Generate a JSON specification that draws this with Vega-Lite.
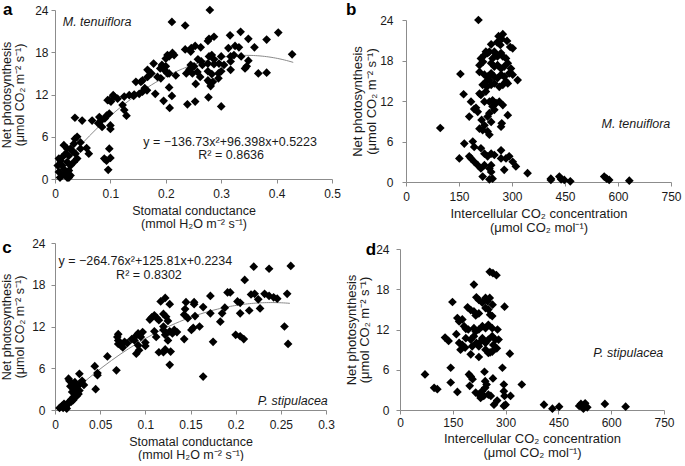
{
  "$schema": "https://vega.github.io/schema/vega-lite/v6.json",
  "padding": {"left": 0, "top": 0, "right": 0, "bottom": 0},
  "columns": 2,
  "align": "none",
  "bounds": "full",
  "spacing": {"row": 3, "column": 4},
  "datasets": {
    "a": [
      {"gs":0.2795,"An":24.0},{"gs":0.211,"An":22.3},{"gs":0.235,"An":21.8},{"gs":0.316,"An":20.4},{"gs":0.335,"An":20.9},{"gs":0.403,"An":20.8},{"gs":0.382,"An":19.8},{"gs":0.349,"An":19.9},{"gs":0.278,"An":19.9},{"gs":0.287,"An":20.2},{"gs":0.276,"An":19.6},{"gs":0.253,"An":18.9},{"gs":0.246,"An":18.6},{"gs":0.235,"An":18.4},{"gs":0.263,"An":18.7},{"gs":0.313,"An":18.6},{"gs":0.325,"An":18.9},{"gs":0.332,"An":18.7},{"gs":0.36,"An":18.7},{"gs":0.203,"An":17.6},{"gs":0.212,"An":17.9},{"gs":0.215,"An":17.6},{"gs":0.206,"An":17.4},{"gs":0.2,"An":17.1},{"gs":0.245,"An":18.1},{"gs":0.283,"An":17.6},{"gs":0.278,"An":17.4},{"gs":0.287,"An":17.0},{"gs":0.3,"An":17.4},{"gs":0.317,"An":17.4},{"gs":0.323,"An":17.6},{"gs":0.336,"An":17.4},{"gs":0.428,"An":17.7},{"gs":0.349,"An":16.8},{"gs":0.258,"An":17.0},{"gs":0.264,"An":16.7},{"gs":0.276,"An":16.4},{"gs":0.287,"An":16.3},{"gs":0.245,"An":16.2},{"gs":0.251,"An":16.0},{"gs":0.266,"An":16.2},{"gs":0.296,"An":16.4},{"gs":0.305,"An":16.2},{"gs":0.317,"An":16.7},{"gs":0.346,"An":16.0},{"gs":0.343,"An":15.7},{"gs":0.178,"An":16.4},{"gs":0.193,"An":16.2},{"gs":0.2,"An":16.0},{"gs":0.19,"An":15.7},{"gs":0.197,"An":15.5},{"gs":0.167,"An":15.5},{"gs":0.203,"An":15.0},{"gs":0.206,"An":15.0},{"gs":0.218,"An":14.7},{"gs":0.243,"An":15.6},{"gs":0.237,"An":15.0},{"gs":0.248,"An":15.0},{"gs":0.257,"An":15.2},{"gs":0.276,"An":15.3},{"gs":0.283,"An":14.9},{"gs":0.295,"An":15.0},{"gs":0.3,"An":15.3},{"gs":0.317,"An":15.5},{"gs":0.367,"An":15.0},{"gs":0.382,"An":15.1},{"gs":0.262,"An":14.5},{"gs":0.276,"An":14.0},{"gs":0.285,"An":13.8},{"gs":0.295,"An":14.3},{"gs":0.174,"An":15.0},{"gs":0.167,"An":14.5},{"gs":0.185,"An":14.5},{"gs":0.191,"An":14.3},{"gs":0.158,"An":14.0},{"gs":0.155,"An":13.8},{"gs":0.146,"An":13.8},{"gs":0.254,"An":13.5},{"gs":0.278,"An":13.8},{"gs":0.206,"An":13.0},{"gs":0.162,"An":12.9},{"gs":0.166,"An":12.6},{"gs":0.158,"An":12.4},{"gs":0.152,"An":12.1},{"gs":0.143,"An":12.0},{"gs":0.142,"An":11.8},{"gs":0.134,"An":11.9},{"gs":0.125,"An":11.7},{"gs":0.181,"An":12.1},{"gs":0.281,"An":13.2},{"gs":0.211,"An":11.8},{"gs":0.196,"An":11.1},{"gs":0.253,"An":11.0},{"gs":0.239,"An":10.6},{"gs":0.277,"An":11.6},{"gs":0.3,"An":10.3},{"gs":0.207,"An":10.1},{"gs":0.107,"An":11.7},{"gs":0.113,"An":11.4},{"gs":0.098,"An":11.2},{"gs":0.101,"An":11.0},{"gs":0.095,"An":11.2},{"gs":0.105,"An":11.9},{"gs":0.122,"An":10.5},{"gs":0.125,"An":9.8},{"gs":0.129,"An":9.0},{"gs":0.093,"An":9.0},{"gs":0.098,"An":9.3},{"gs":0.09,"An":8.6},{"gs":0.083,"An":8.3},{"gs":0.08,"An":8.8},{"gs":0.1,"An":7.6},{"gs":0.085,"An":7.4},{"gs":0.1,"An":7.1},{"gs":0.078,"An":7.9},{"gs":0.049,"An":8.3},{"gs":0.067,"An":8.3},{"gs":0.036,"An":8.7},{"gs":0.057,"An":4.4},{"gs":0.061,"An":3.6},{"gs":0.098,"An":4.3},{"gs":0.096,"An":1.3},{"gs":0.1,"An":3.0},{"gs":0.089,"An":2.9},{"gs":0.093,"An":2.6},
      {"gs":0.010,"An":2.6},{"gs":0.013,"An":1.9},{"gs":0.016,"An":1.4},{"gs":0.022,"An":2.4},{"gs":0.007,"An":1.0},{"gs":0.013,"An":0.5},{"gs":0.019,"An":0.7},{"gs":0.025,"An":1.2},{"gs":0.009,"An":0.2},{"gs":0.022,"An":0.2},{"gs":0.028,"An":0.5},{"gs":0.013,"An":3.1},{"gs":0.019,"An":3.6},{"gs":0.025,"An":3.3},{"gs":0.028,"An":4.3},{"gs":0.034,"An":5.0},{"gs":0.031,"An":4.0},{"gs":0.036,"An":5.7},{"gs":0.04,"An":6.0},{"gs":0.046,"An":5.2},{"gs":0.046,"An":4.3},{"gs":0.037,"An":3.6},{"gs":0.04,"An":2.9},{"gs":0.022,"An":4.3},{"gs":0.016,"An":4.8},{"gs":0.007,"An":2.9},{"gs":0.005,"An":1.9},{"gs":0.028,"An":1.9},{"gs":0.034,"An":2.4},{"gs":0.025,"An":0.2}
    ],
    "b": [
      {"Ci":205,"An":24.0},{"Ci":274,"An":21.9},{"Ci":262,"An":21.6},{"Ci":271,"An":21.2},{"Ci":258,"An":20.7},{"Ci":286,"An":20.9},{"Ci":295,"An":20.0},{"Ci":302,"An":19.8},{"Ci":267,"An":20.3},{"Ci":241,"An":20.4},{"Ci":226,"An":19.3},{"Ci":236,"An":19.3},{"Ci":231,"An":19.1},{"Ci":222,"An":18.8},{"Ci":212,"An":18.3},{"Ci":218,"An":17.8},{"Ci":208,"An":17.3},{"Ci":250,"An":19.3},{"Ci":255,"An":18.8},{"Ci":245,"An":18.3},{"Ci":259,"An":18.6},{"Ci":269,"An":19.1},{"Ci":274,"An":18.6},{"Ci":283,"An":18.3},{"Ci":288,"An":17.6},{"Ci":241,"An":17.6},{"Ci":250,"An":17.1},{"Ci":259,"An":17.3},{"Ci":269,"An":16.8},{"Ci":278,"An":17.1},{"Ci":297,"An":16.8},{"Ci":292,"An":16.1},{"Ci":302,"An":15.9},{"Ci":316,"An":15.1},{"Ci":154,"An":16.0},{"Ci":208,"An":16.3},{"Ci":222,"An":15.9},{"Ci":231,"An":15.6},{"Ci":241,"An":16.1},{"Ci":236,"An":15.1},{"Ci":227,"An":14.9},{"Ci":250,"An":15.6},{"Ci":259,"An":15.4},{"Ci":269,"An":15.9},{"Ci":278,"An":15.6},{"Ci":283,"An":14.9},{"Ci":288,"An":14.6},{"Ci":217,"An":14.4},{"Ci":229,"An":14.1},{"Ci":241,"An":14.4},{"Ci":250,"An":14.6},{"Ci":264,"An":14.1},{"Ci":274,"An":14.4},{"Ci":208,"An":13.1},{"Ci":212,"An":12.9},{"Ci":226,"An":13.4},{"Ci":163,"An":13.0},{"Ci":184,"An":11.9},{"Ci":198,"An":11.0},{"Ci":193,"An":10.8},{"Ci":203,"An":10.4},{"Ci":179,"An":9.7},{"Ci":222,"An":11.9},{"Ci":236,"An":11.9},{"Ci":245,"An":12.1},{"Ci":255,"An":11.7},{"Ci":264,"An":11.9},{"Ci":245,"An":11.2},{"Ci":250,"An":10.7},{"Ci":236,"An":10.2},{"Ci":231,"An":9.7},{"Ci":274,"An":11.4},{"Ci":288,"An":9.9},{"Ci":214,"An":9.2},{"Ci":222,"An":8.4},{"Ci":241,"An":8.9},{"Ci":231,"An":7.5},{"Ci":217,"An":7.7},{"Ci":208,"An":7.9},{"Ci":236,"An":7.0},{"Ci":269,"An":8.2},{"Ci":271,"An":8.7},{"Ci":97,"An":8.0},{"Ci":189,"An":6.0},{"Ci":165,"An":5.7},{"Ci":193,"An":5.2},{"Ci":179,"An":3.8},{"Ci":151,"An":3.5},{"Ci":184,"An":3.5},{"Ci":193,"An":3.0},{"Ci":203,"An":2.5},{"Ci":212,"An":2.0},{"Ci":217,"An":0.8},{"Ci":236,"An":0.4},{"Ci":222,"An":2.5},{"Ci":236,"An":2.0},{"Ci":241,"An":2.5},{"Ci":231,"An":3.8},{"Ci":241,"An":4.2},{"Ci":222,"An":4.2},{"Ci":212,"An":5.0},{"Ci":250,"An":4.0},{"Ci":269,"An":4.7},{"Ci":269,"An":3.5},{"Ci":283,"An":3.5},{"Ci":292,"An":3.8},{"Ci":302,"An":3.0},{"Ci":311,"An":2.3},{"Ci":278,"An":1.8},{"Ci":241,"An":1.5},{"Ci":245,"An":0.5},{"Ci":344,"An":1.3},{"Ci":410,"An":0.5},{"Ci":410,"An":0.3},{"Ci":434,"An":0.8},{"Ci":439,"An":0.4},{"Ci":448,"An":0.3},{"Ci":465,"An":0.1},{"Ci":561,"An":0.8},{"Ci":568,"An":0.5},{"Ci":575,"An":0.3},{"Ci":632,"An":0.2}
    ],
    "c": [
      {"gs":0.005,"An":0.3},{"gs":0.008,"An":0.6},{"gs":0.01,"An":0.9},{"gs":0.012,"An":0.4},{"gs":0.014,"An":0.8},{"gs":0.015,"An":1.1},{"gs":0.013,"An":0.2},{"gs":0.018,"An":1.5},{"gs":0.02,"An":1.8},{"gs":0.022,"An":2.2},{"gs":0.019,"An":2.6},{"gs":0.021,"An":3.0},{"gs":0.017,"An":3.4},{"gs":0.02,"An":3.8},{"gs":0.016,"An":4.2},{"gs":0.015,"An":4.5},{"gs":0.022,"An":4.0},{"gs":0.025,"An":3.5},{"gs":0.027,"An":2.8},{"gs":0.024,"An":2.0},{"gs":0.028,"An":3.8},{"gs":0.027,"An":5.2},{"gs":0.03,"An":4.2},{"gs":0.032,"An":3.6},{"gs":0.023,"An":2.5},{"gs":0.018,"An":1.2},{"gs":0.02,"An":1.4},{"gs":0.012,"An":0.6},{"gs":0.009,"An":0.3},{"gs":0.026,"An":2.3},
      {"gs":0.045,"An":3.0},{"gs":0.044,"An":6.3},{"gs":0.047,"An":5.0},{"gs":0.047,"An":5.3},{"gs":0.058,"An":7.7},{"gs":0.068,"An":5.7},{"gs":0.07,"An":9.5},{"gs":0.07,"An":10.0},{"gs":0.069,"An":10.5},{"gs":0.07,"An":10.9},{"gs":0.073,"An":9.3},{"gs":0.075,"An":9.0},{"gs":0.077,"An":9.8},{"gs":0.08,"An":9.6},{"gs":0.085,"An":10.2},{"gs":0.088,"An":10.0},{"gs":0.09,"An":10.7},{"gs":0.092,"An":9.3},{"gs":0.093,"An":8.6},{"gs":0.09,"An":8.1},{"gs":0.092,"An":11.0},{"gs":0.095,"An":10.5},{"gs":0.097,"An":11.2},{"gs":0.1,"An":9.2},{"gs":0.1,"An":9.7},{"gs":0.105,"An":13.0},{"gs":0.107,"An":13.3},{"gs":0.11,"An":13.6},{"gs":0.113,"An":13.2},{"gs":0.11,"An":11.3},{"gs":0.112,"An":10.5},{"gs":0.115,"An":12.9},{"gs":0.115,"An":8.3},{"gs":0.12,"An":8.3},{"gs":0.122,"An":8.7},{"gs":0.117,"An":15.6},{"gs":0.122,"An":16.1},{"gs":0.12,"An":13.8},{"gs":0.123,"An":13.4},{"gs":0.125,"An":12.8},{"gs":0.12,"An":12.0},{"gs":0.12,"An":11.5},{"gs":0.122,"An":10.8},{"gs":0.127,"An":11.3},{"gs":0.125,"An":10.0},{"gs":0.127,"An":6.5},{"gs":0.128,"An":8.4},{"gs":0.127,"An":15.2},{"gs":0.13,"An":11.0},{"gs":0.132,"An":11.5},{"gs":0.135,"An":11.2},
      {"gs":0.143,"An":13.7},{"gs":0.147,"An":13.2},{"gs":0.144,"An":14.5},{"gs":0.145,"An":15.5},{"gs":0.154,"An":15.2},{"gs":0.154,"An":15.5},{"gs":0.164,"An":14.8},{"gs":0.151,"An":11.5},{"gs":0.153,"An":11.8},{"gs":0.16,"An":12.0},{"gs":0.143,"An":10.2},{"gs":0.155,"An":13.5},{"gs":0.172,"An":16.4},{"gs":0.172,"An":13.9},{"gs":0.175,"An":9.8},{"gs":0.164,"An":4.8},{"gs":0.183,"An":12.7},{"gs":0.185,"An":13.9},{"gs":0.188,"An":14.7},{"gs":0.191,"An":16.9},{"gs":0.194,"An":16.9},{"gs":0.2,"An":10.8},{"gs":0.205,"An":10.6},{"gs":0.209,"An":10.2},{"gs":0.202,"An":15.6},{"gs":0.205,"An":15.4},{"gs":0.205,"An":13.9},{"gs":0.21,"An":18.7},{"gs":0.215,"An":14.3},{"gs":0.217,"An":16.6},{"gs":0.221,"An":16.7},{"gs":0.22,"An":20.6},{"gs":0.225,"An":15.9},{"gs":0.227,"An":14.6},{"gs":0.232,"An":16.7},{"gs":0.237,"An":16.4},{"gs":0.237,"An":20.3},{"gs":0.242,"An":16.2},{"gs":0.246,"An":16.0},{"gs":0.254,"An":12.0},{"gs":0.258,"An":9.5},{"gs":0.257,"An":16.7},{"gs":0.261,"An":20.7}
    ],
    "d": [
      {"Ci":71,"An":5.3},{"Ci":97,"An":3.3},{"Ci":106,"An":3.1},{"Ci":144,"An":4.1},{"Ci":163,"An":2.7},{"Ci":144,"An":6.3},{"Ci":196,"An":5.3},{"Ci":201,"An":5.0},{"Ci":206,"An":4.6},{"Ci":198,"An":3.6},{"Ci":215,"An":2.6},{"Ci":224,"An":2.3},{"Ci":229,"An":1.8},{"Ci":238,"An":2.1},{"Ci":233,"An":2.8},{"Ci":242,"An":3.3},{"Ci":246,"An":3.8},{"Ci":242,"An":4.3},{"Ci":240,"An":5.7},{"Ci":251,"An":2.3},{"Ci":258,"An":2.1},{"Ci":264,"An":4.7},{"Ci":267,"An":0.8},{"Ci":276,"An":1.4},{"Ci":295,"An":3.8},{"Ci":295,"An":2.8},{"Ci":297,"An":2.1},{"Ci":300,"An":0.8},{"Ci":295,"An":0.6},{"Ci":314,"An":2.1},{"Ci":291,"An":6.3},{"Ci":346,"An":3.8},{"Ci":312,"An":8.4},{"Ci":409,"An":0.8},{"Ci":433,"An":0.2},{"Ci":452,"An":0.5},{"Ci":509,"An":0.6},{"Ci":514,"An":0.9},{"Ci":521,"An":0.2},{"Ci":526,"An":1.0},{"Ci":532,"An":0.4},{"Ci":582,"An":0.9},{"Ci":641,"An":0.5},
      {"Ci":255,"An":20.6},{"Ci":264,"An":20.4},{"Ci":274,"An":20.1},{"Ci":210,"An":18.7},{"Ci":149,"An":16.1},{"Ci":217,"An":16.8},{"Ci":224,"An":16.4},{"Ci":234,"An":16.0},{"Ci":243,"An":16.7},{"Ci":249,"An":16.2},{"Ci":255,"An":16.7},{"Ci":263,"An":15.7},{"Ci":297,"An":15.4},{"Ci":192,"An":15.3},{"Ci":201,"An":14.9},{"Ci":210,"An":14.7},{"Ci":215,"An":14.1},{"Ci":224,"An":14.4},{"Ci":243,"An":15.2},{"Ci":251,"An":15.0},{"Ci":256,"An":14.2},{"Ci":262,"An":14.0},{"Ci":163,"An":13.7},{"Ci":168,"An":13.2},{"Ci":177,"An":13.5},{"Ci":182,"An":12.5},{"Ci":187,"An":12.1},{"Ci":194,"An":12.0},{"Ci":210,"An":12.2},{"Ci":215,"An":11.7},{"Ci":224,"An":12.0},{"Ci":234,"An":12.5},{"Ci":243,"An":12.2},{"Ci":251,"An":12.7},{"Ci":262,"An":12.2},{"Ci":128,"An":10.8},{"Ci":138,"An":10.3},{"Ci":160,"An":11.3},{"Ci":168,"An":10.0},{"Ci":177,"An":9.7},{"Ci":185,"An":9.3},{"Ci":172,"An":9.0},{"Ci":187,"An":10.7},{"Ci":201,"An":10.5},{"Ci":210,"An":11.0},{"Ci":217,"An":10.0},{"Ci":224,"An":9.5},{"Ci":229,"An":10.2},{"Ci":234,"An":10.7},{"Ci":243,"An":10.0},{"Ci":251,"An":10.5},{"Ci":262,"An":11.0},{"Ci":271,"An":10.5},{"Ci":265,"An":9.7},{"Ci":277,"An":12.0},{"Ci":280,"An":10.5},{"Ci":275,"An":9.2},{"Ci":262,"An":8.7},{"Ci":256,"An":8.6},{"Ci":251,"An":8.5},{"Ci":205,"An":9.5},{"Ci":201,"An":8.3},{"Ci":224,"An":7.9},{"Ci":243,"An":9.0}
    ]
  },
  "concat": [
    {
      "width": 277, "height": 169,
      "data": {"name": "a"},
      "layer": [
        {
          "transform": [{"regression": "An", "on": "gs", "method": "poly", "order": 2, "extent": [0.03, 0.43]}],
          "mark": {"type": "line", "color": "#8a8a8a", "strokeWidth": 1},
          "encoding": {
            "x": {"field": "gs", "type": "quantitative", "scale": {"domain": [0, 0.5], "nice": false},
                  "axis": {"title": ["Stomatal conductance", "(mmol H₂O m⁻² s⁻¹)"], "values": [0, 0.1, 0.2, 0.3, 0.4, 0.5], "format": ".1~f", "labelPadding": 5, "titlePadding": 5}},
            "y": {"field": "An", "type": "quantitative", "scale": {"domain": [0, 24], "nice": false},
                  "axis": {"title": ["Net photosynthesis", "(μmol CO₂ m⁻² s⁻¹)"], "values": [0, 6, 12, 18, 24], "labelPadding": 3, "titlePadding": 8}}
          }
        },
        {
          "mark": {"type": "point", "shape": "diamond", "filled": true, "color": "#000", "opacity": 1, "size": 76},
          "encoding": {"x": {"field": "gs", "type": "quantitative"}, "y": {"field": "An", "type": "quantitative"}}
        },
        {
          "data": {"values": [{}]},
          "mark": {"type": "text", "align": "center", "baseline": "middle"},
          "encoding": {"x": {"datum": 0.316}, "y": {"datum": 5.25}, "text": {"value": "y = −136.73x²+96.398x+0.5223"}}
        },
        {
          "data": {"values": [{}]},
          "mark": {"type": "text", "align": "center", "baseline": "middle"},
          "encoding": {"x": {"datum": 0.318}, "y": {"datum": 3.4}, "text": {"value": "R² = 0.8636"}}
        },
        {
          "data": {"values": [{}]},
          "mark": {"type": "text", "align": "left", "baseline": "middle", "fontStyle": "italic"},
          "encoding": {"x": {"datum": 0.014}, "y": {"datum": 22.3}, "text": {"value": "M. tenuiflora"}}
        },
        {
          "data": {"values": [{}]},
          "mark": {"type": "text", "align": "left", "baseline": "alphabetic", "fontSize": 17, "fontWeight": "bold", "color": "#000"},
          "encoding": {"x": {"datum": -0.094}, "y": {"datum": 23.3}, "text": {"value": "a"}}
        }
      ]
    },
    {
      "width": 265, "height": 172,
      "data": {"name": "b"},
      "layer": [
        {
          "mark": {"type": "point", "shape": "diamond", "filled": true, "color": "#000", "opacity": 1, "size": 76},
          "encoding": {
            "x": {"field": "Ci", "type": "quantitative", "scale": {"domain": [0, 750], "nice": false},
                  "axis": {"title": ["Intercellular CO₂ concentration", "(μmol CO₂ mol⁻¹)"], "values": [0, 150, 300, 450, 600, 750], "labelPadding": 5, "titlePadding": 5, "titleFontSize": 13, "titleLineHeight": 14}},
            "y": {"field": "An", "type": "quantitative", "scale": {"domain": [0, 24], "nice": false, "range": [172, 10]},
                  "axis": {"title": ["Net photosynthesis", "(μmol CO₂ m⁻² s⁻¹)"], "values": [0, 6, 12, 18, 24], "labelPadding": 9, "titlePadding": 1, "titleFontSize": 13, "titleLineHeight": 14}}
          }
        },
        {
          "data": {"values": [{}]},
          "mark": {"type": "text", "align": "right", "baseline": "middle", "fontStyle": "italic"},
          "encoding": {"x": {"datum": 748}, "y": {"datum": 8.6}, "text": {"value": "M. tenuiflora"}}
        },
        {
          "data": {"values": [{}]},
          "mark": {"type": "text", "align": "left", "baseline": "alphabetic", "fontSize": 17, "fontWeight": "bold", "color": "#000"},
          "encoding": {"x": {"datum": -170}, "y": {"datum": 24.74}, "text": {"value": "b"}}
        }
      ]
    },
    {
      "width": 271, "height": 167,
      "data": {"name": "c"},
      "layer": [
        {
          "transform": [{"regression": "An", "on": "gs", "method": "poly", "order": 2, "extent": [0.025, 0.26]}],
          "mark": {"type": "line", "color": "#8a8a8a", "strokeWidth": 1},
          "encoding": {
            "x": {"field": "gs", "type": "quantitative", "scale": {"domain": [0, 0.3], "nice": false},
                  "axis": {"title": ["Stomatal conductance", "(mmol H₂O m⁻² s⁻¹)"], "values": [0, 0.05, 0.1, 0.15, 0.2, 0.25, 0.3], "format": ".2~f", "labelPadding": 5, "titlePadding": 5}},
            "y": {"field": "An", "type": "quantitative", "scale": {"domain": [0, 24], "nice": false},
                  "axis": {"title": ["Net photosynthesis", "(μmol CO₂ m⁻² s⁻¹)"], "values": [0, 6, 12, 18, 24], "labelPadding": 6, "titlePadding": 5}}
          }
        },
        {
          "mark": {"type": "point", "shape": "diamond", "filled": true, "color": "#000", "opacity": 1, "size": 76},
          "encoding": {"x": {"field": "gs", "type": "quantitative"}, "y": {"field": "An", "type": "quantitative"}}
        },
        {
          "data": {"values": [{}]},
          "mark": {"type": "text", "align": "center", "baseline": "middle"},
          "encoding": {"x": {"datum": 0.1}, "y": {"datum": 21.4}, "text": {"value": "y = −264.76x²+125.81x+0.2234"}}
        },
        {
          "data": {"values": [{}]},
          "mark": {"type": "text", "align": "center", "baseline": "middle"},
          "encoding": {"x": {"datum": 0.104}, "y": {"datum": 19.4}, "text": {"value": "R² = 0.8302"}}
        },
        {
          "data": {"values": [{}]},
          "mark": {"type": "text", "align": "right", "baseline": "middle", "fontStyle": "italic"},
          "encoding": {"x": {"datum": 0.302}, "y": {"datum": 1.3}, "text": {"value": "P. stipulacea"}}
        },
        {
          "data": {"values": [{}]},
          "mark": {"type": "text", "align": "left", "baseline": "alphabetic", "fontSize": 17, "fontWeight": "bold", "color": "#000"},
          "encoding": {"x": {"datum": -0.0585}, "y": {"datum": 22.56}, "text": {"value": "c"}}
        }
      ]
    },
    {
      "width": 264, "height": 173,
      "data": {"name": "d"},
      "layer": [
        {
          "mark": {"type": "point", "shape": "diamond", "filled": true, "color": "#000", "opacity": 1, "size": 76},
          "encoding": {
            "x": {"field": "Ci", "type": "quantitative", "scale": {"domain": [0, 750], "nice": false},
                  "axis": {"title": ["Intercellular CO₂ concentration", "(μmol CO₂ mol⁻¹)"], "values": [0, 150, 300, 450, 600, 750], "labelPadding": 3, "titlePadding": 4, "titleFontSize": 13, "titleLineHeight": 14}},
            "y": {"field": "An", "type": "quantitative", "scale": {"domain": [0, 24], "nice": false, "range": [173, 12]},
                  "axis": {"title": ["Net photosynthesis", "(μmol CO₂ m⁻² s⁻¹)"], "values": [0, 6, 12, 18, 24], "labelPadding": 7, "titlePadding": 4, "titleFontSize": 13}}
          }
        },
        {
          "data": {"values": [{}]},
          "mark": {"type": "text", "align": "right", "baseline": "middle", "fontStyle": "italic"},
          "encoding": {"x": {"datum": 748}, "y": {"datum": 8.5}, "text": {"value": "P. stipulacea"}}
        },
        {
          "data": {"values": [{}]},
          "mark": {"type": "text", "align": "left", "baseline": "alphabetic", "fontSize": 17, "fontWeight": "bold", "color": "#000"},
          "encoding": {"x": {"datum": -97}, "y": {"datum": 23.1}, "text": {"value": "d"}}
        }
      ]
    }
  ],
  "config": {
    "view": {"stroke": null},
    "font": "Liberation Sans",
    "text": {"font": "Liberation Sans", "fontSize": 12.5, "color": "#1a1a1a"},
    "axis": {
      "grid": false,
      "domainColor": "#8c8c8c",
      "tickColor": "#8c8c8c",
      "tickSize": 4,
      "labelFont": "Liberation Sans",
      "titleFont": "Liberation Sans",
      "labelFontSize": 12,
      "titleFontSize": 12.5,
      "titleFontWeight": "normal",
      "labelColor": "#1a1a1a",
      "titleColor": "#1a1a1a",
      "titleLineHeight": 13,
      "labelFlush": false,
      "labelOverlap": false
    }
  }
}
